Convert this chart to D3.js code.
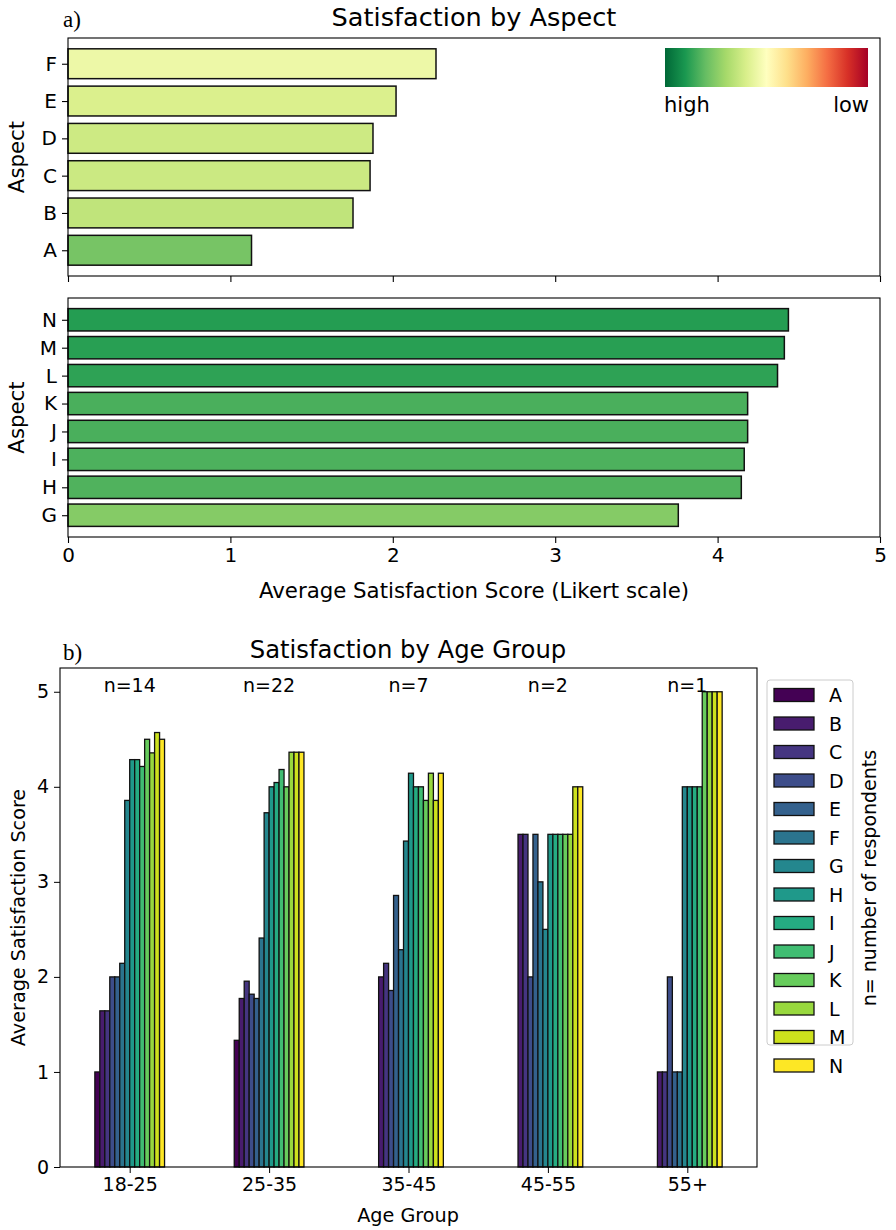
<!DOCTYPE html>
<html><head><meta charset="utf-8">
<script src="https://cdn.jsdelivr.net/npm/d3@7"></script>
<style>
body{margin:0;background:#fff;}
text{font-family:"DejaVu Sans",sans-serif;fill:#000;}
</style></head><body>
<svg id="c" width="896" height="1230"></svg>
<script>
// ---------- data ----------
const topAspects = ["A","B","C","D","E","F"];
const topScores  = [1.13,1.755,1.86,1.878,2.02,2.266];
const botAspects = ["G","H","I","J","K","L","M","N"];
const botScores  = [3.758,4.146,4.164,4.185,4.185,4.369,4.411,4.436];
const xTicks = [0,1,2,3,4,5];

const ageGroups = ["18-25","25-35","35-45","45-55","55+"];
const nRespondents = [14,22,7,2,1];
const aspects = ["A","B","C","D","E","F","G","H","I","J","K","L","M","N"];
const age18_25 = [1.0,1.643,1.643,2.0,2.0,2.143,3.857,4.286,4.286,4.214,4.5,4.357,4.571,4.5];
const age25_35 = [1.333,1.773,1.955,1.818,1.773,2.409,3.727,4.0,4.045,4.182,4.0,4.364,4.364,4.364];
const age35_45 = [null,2.0,2.143,1.857,2.857,2.286,3.429,4.143,4.0,4.0,3.857,4.143,3.857,4.143];
const age45_55 = [null,3.5,3.5,2.0,3.5,3.0,2.5,3.5,3.5,3.5,3.5,3.5,4.0,4.0];
const age55p   = [null,1.0,1.0,2.0,1.0,1.0,4.0,4.0,4.0,4.0,5.0,5.0,5.0,5.0];
const ageSeries = [age18_25, age25_35, age35_45, age45_55, age55p];
const yTicksB = [0,1,2,3,4,5];

// ---------- colours ----------
const rdylgnStops = ["#a50026","#d73027","#f46d43","#fdae61","#fee08b","#ffffbf","#d9ef8b","#a6d96a","#66bd63","#1a9850","#006837"];
const rdylgn = d3.scaleLinear().domain(d3.range(11).map(i=>i/10)).range(rdylgnStops).interpolate(d3.interpolateRgb).clamp(true);
const viridis = i => d3.interpolateViridis(i/13);

const svg = d3.select("#c");
// top figure font sizes
const FT_TICK = 20, FT_LAB = 21.3, FT_TITLE = 25.6;
// bottom figure font sizes
const FB_TICK = 19, FB_LAB = 19.2, FB_TITLE = 24.3;

// ---------- panel a ----------
const xA = d3.scaleLinear().domain([0,5]).range([68,880]);
const yTop = d3.scaleLinear().domain([-0.69,5.69]).range([276,38]);
const yBot = d3.scaleLinear().domain([-0.78,7.78]).range([537,298]);

function hpanel(yS, names, vals, colorFn, showX){
  const g = svg.append("g");
  g.selectAll("rect.bar").data(vals).join("rect")
    .attr("x", xA(0)).attr("y", (d,i)=>yS(i+0.4))
    .attr("width", d=>xA(d)-xA(0)).attr("height", (d,i)=>yS(i-0.4)-yS(i+0.4))
    .attr("fill", d=>colorFn(d)).attr("stroke","#111").attr("stroke-width",1.5);
  const [y0,y1] = yS.range();
  g.append("rect").attr("x",xA(0)).attr("y",y1).attr("width",xA(5)-xA(0)).attr("height",y0-y1)
    .attr("fill","none").attr("stroke","#000").attr("stroke-width",1.1);
  const ay = g.append("g").attr("transform",`translate(${xA(0)},0)`)
    .call(d3.axisLeft(yS).tickValues(d3.range(names.length)).tickFormat(i=>names[i]).tickSize(6).tickPadding(5));
  ay.select(".domain").remove();
  ay.selectAll("text").attr("font-size",FT_TICK).attr("font-family","DejaVu Sans");
  ay.selectAll("line").attr("stroke-width",1.1);
  const ax = g.append("g").attr("transform",`translate(0,${y0})`)
    .call(d3.axisBottom(xA).tickValues(xTicks).tickFormat(showX? d3.format("d"):"").tickSize(6).tickPadding(5));
  ax.select(".domain").remove();
  ax.selectAll("text").attr("font-size",FT_TICK).attr("font-family","DejaVu Sans");
  ax.selectAll("line").attr("stroke-width",1.1);
  g.append("text").attr("transform",`translate(24,${(y0+y1)/2}) rotate(-90)`)
    .attr("text-anchor","middle").attr("font-size",FT_LAB).text("Aspect");
}
hpanel(yTop, topAspects, topScores, v=>rdylgn(1-v/5), false);
hpanel(yBot, botAspects, botScores, v=>rdylgn(v/5), true);

svg.append("text").attr("x",474).attr("y",26).attr("text-anchor","middle").attr("font-size",FT_TITLE).text("Satisfaction by Aspect");
svg.append("text").attr("x",63).attr("y",27).attr("font-size",23).style("font-family","'Liberation Serif',serif").text("a)");
svg.append("text").attr("x",474).attr("y",598).attr("text-anchor","middle").attr("font-size",FT_LAB).text("Average Satisfaction Score (Likert scale)");

// colorbar
const defs = svg.append("defs");
const grad = defs.append("linearGradient").attr("id","cb").attr("x1","0%").attr("x2","100%");
rdylgnStops.slice().reverse().forEach((c,i)=>grad.append("stop").attr("offset",(i*10)+"%").attr("stop-color",c));
svg.append("rect").attr("x",665).attr("y",48).attr("width",203).attr("height",39).attr("fill","url(#cb)");
svg.append("text").attr("x",664).attr("y",112).attr("font-size",21).text("high");
svg.append("text").attr("x",869).attr("y",112).attr("text-anchor","end").attr("font-size",21).text("low");

// ---------- panel b ----------
const xB = d3.scaleLinear().domain([-0.5,4.5]).range([60,757]);
const yB = d3.scaleLinear().domain([0,5.25]).range([1167,668]);
const bw = 0.5/aspects.length;
const gb = svg.append("g");
ageSeries.forEach((ser,gi)=>{
  gb.append("g").selectAll("rect").data(ser.map((v,i)=>({v,i})).filter(d=>d.v!=null)).join("rect")
    .attr("x", d=>xB(gi-0.25+d.i*bw)).attr("width", xB(bw)-xB(0))
    .attr("y", d=>yB(d.v)).attr("height", d=>yB(0)-yB(d.v))
    .attr("fill", d=>viridis(d.i)).attr("stroke","#111").attr("stroke-width",1.3);
  gb.append("text").attr("x",xB(gi)).attr("y",692).attr("text-anchor","middle").attr("font-size",FB_TICK)
    .text("n="+nRespondents[gi]);
});
gb.append("rect").attr("x",xB(-0.5)).attr("y",yB(5.25)).attr("width",xB(4.5)-xB(-0.5)).attr("height",yB(0)-yB(5.25))
  .attr("fill","none").attr("stroke","#000").attr("stroke-width",1.1);
const axB = gb.append("g").attr("transform",`translate(0,${yB(0)})`)
  .call(d3.axisBottom(xB).tickValues(d3.range(5)).tickFormat(i=>ageGroups[i]).tickSize(6).tickPadding(5));
axB.select(".domain").remove();
axB.selectAll("text").attr("font-size",FB_TICK).attr("font-family","DejaVu Sans");
const ayB = gb.append("g").attr("transform",`translate(${xB(-0.5)},0)`)
  .call(d3.axisLeft(yB).tickValues(yTicksB).tickFormat(d3.format("d")).tickSize(6).tickPadding(5));
ayB.select(".domain").remove();
ayB.selectAll("text").attr("font-size",FB_TICK).attr("font-family","DejaVu Sans");
svg.append("text").attr("x",408).attr("y",658).attr("text-anchor","middle").attr("font-size",FB_TITLE).text("Satisfaction by Age Group");
svg.append("text").attr("x",63).attr("y",660).attr("font-size",23).style("font-family","'Liberation Serif',serif").text("b)");
svg.append("text").attr("x",408).attr("y",1222).attr("text-anchor","middle").attr("font-size",FB_LAB).text("Age Group");
svg.append("text").attr("transform",`translate(25,${(1167+668)/2}) rotate(-90)`).attr("text-anchor","middle").attr("font-size",FB_LAB).text("Average Satisfaction Score");

// legend
const lg = svg.append("g");
lg.append("rect").attr("x",767).attr("y",680).attr("width",86).attr("height",365).attr("rx",3)
  .attr("fill","#fff").attr("fill-opacity",0.8).attr("stroke","#ccc").attr("stroke-width",1);
aspects.forEach((a,i)=>{
  const cy = 695 + i*28.5;
  lg.append("rect").attr("x",774).attr("y",cy-6.5).attr("width",40).attr("height",13)
    .attr("fill",viridis(i)).attr("stroke","#111").attr("stroke-width",1.3);
  lg.append("text").attr("x",829).attr("y",cy+7).attr("font-size",19).text(a);
});
svg.append("text").attr("transform",`translate(876,878) rotate(-90)`).attr("text-anchor","middle").attr("font-size",19).text("n= number of respondents");
</script></body></html>
